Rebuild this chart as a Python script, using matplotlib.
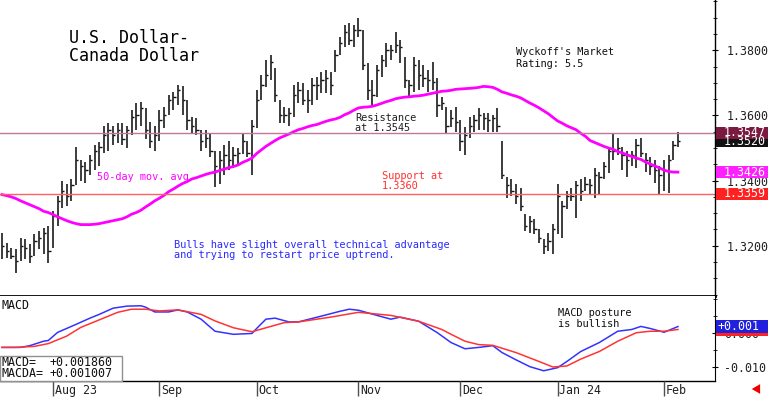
import numpy as np
import pandas as pd
import matplotlib
matplotlib.use("Agg")
import matplotlib.pyplot as plt
from matplotlib.patches import Rectangle
from matplotlib.transforms import blended_transform_factory

# ---- data ----
dates = pd.bdate_range("2023-07-17", "2024-02-06")

high = [1.3240, 1.3209, 1.3194, 1.3191, 1.3225, 1.3222, 1.3206, 1.3237, 1.3246, 1.3255,
        1.3262, 1.3308, 1.3354, 1.3400, 1.3391, 1.3406, 1.3502, 1.3462, 1.3456, 1.3477,
        1.3508, 1.3517, 1.3569, 1.3576, 1.3569, 1.3576, 1.3576, 1.3569, 1.3616, 1.3637,
        1.3640, 1.3622, 1.3579, 1.3569, 1.3616, 1.3625, 1.3662, 1.3671, 1.3692, 1.3689,
        1.3646, 1.3594, 1.3591, 1.3554, 1.3554, 1.3545, 1.3492, 1.3492, 1.3508, 1.3523,
        1.3502, 1.3499, 1.3545, 1.3523, 1.3585, 1.3677, 1.3723, 1.3769, 1.3785, 1.3745,
        1.3646, 1.3625, 1.3622, 1.3692, 1.3702, 1.3699, 1.3677, 1.3714, 1.3717, 1.3732,
        1.3739, 1.3732, 1.3800, 1.3840, 1.3877, 1.3883, 1.3877, 1.3899, 1.3862, 1.3760,
        1.3708, 1.3754, 1.3785, 1.3822, 1.3816, 1.3856, 1.3831, 1.3779, 1.3708, 1.3779,
        1.3769, 1.3754, 1.3739, 1.3763, 1.3714, 1.3656, 1.3625, 1.3616, 1.3625, 1.3585,
        1.3563, 1.3594, 1.3600, 1.3622, 1.3606, 1.3606, 1.3600, 1.3622, 1.3523, 1.3410,
        1.3406, 1.3391, 1.3376, 1.3298, 1.3292, 1.3283, 1.3252, 1.3222, 1.3240, 1.3268,
        1.3391, 1.3338, 1.3369, 1.3376, 1.3400, 1.3406, 1.3410, 1.3406, 1.3440, 1.3425,
        1.3456, 1.3502, 1.3545, 1.3532, 1.3502, 1.3492, 1.3492, 1.3529, 1.3532, 1.3486,
        1.3471, 1.3462, 1.3446, 1.3462, 1.3477, 1.3523, 1.3548]
low = [1.3160, 1.3163, 1.3160, 1.3117, 1.3154, 1.3160, 1.3148, 1.3169, 1.3191, 1.3176,
       1.3148, 1.3194, 1.3262, 1.3317, 1.3323, 1.3338, 1.3385, 1.3400, 1.3394, 1.3416,
       1.3431, 1.3446, 1.3486, 1.3492, 1.3508, 1.3514, 1.3508, 1.3499, 1.3539, 1.3554,
       1.3569, 1.3529, 1.3499, 1.3492, 1.3523, 1.3560, 1.3600, 1.3616, 1.3631, 1.3600,
       1.3554, 1.3545, 1.3539, 1.3492, 1.3499, 1.3471, 1.3379, 1.3391, 1.3416, 1.3431,
       1.3440, 1.3446, 1.3483, 1.3471, 1.3416, 1.3560, 1.3646, 1.3686, 1.3708, 1.3640,
       1.3576, 1.3576, 1.3569, 1.3594, 1.3637, 1.3631, 1.3606, 1.3631, 1.3646, 1.3668,
       1.3668, 1.3662, 1.3732, 1.3785, 1.3809, 1.3816, 1.3809, 1.3840, 1.3739, 1.3646,
       1.3625, 1.3656, 1.3717, 1.3748, 1.3769, 1.3791, 1.3760, 1.3683, 1.3656, 1.3671,
       1.3677, 1.3686, 1.3671, 1.3677, 1.3594, 1.3616, 1.3545, 1.3563, 1.3548, 1.3492,
       1.3477, 1.3532, 1.3548, 1.3554, 1.3554, 1.3548, 1.3548, 1.3548, 1.3406, 1.3348,
       1.3354, 1.3329, 1.3308, 1.3246, 1.3240, 1.3237, 1.3209, 1.3176, 1.3185, 1.3176,
       1.3237, 1.3225, 1.3314, 1.3338, 1.3286, 1.3338, 1.3369, 1.3360, 1.3348, 1.3360,
       1.3406, 1.3422, 1.3462, 1.3477, 1.3431, 1.3410, 1.3446, 1.3440, 1.3471, 1.3425,
       1.3416, 1.3394, 1.3360, 1.3369, 1.3363, 1.3462, 1.3502]
close = [1.3200, 1.3185, 1.3169, 1.3154, 1.3200, 1.3194, 1.3169, 1.3215, 1.3225, 1.3240,
         1.3185, 1.3292, 1.3338, 1.3369, 1.3354, 1.3385, 1.3462, 1.3446, 1.3431, 1.3462,
         1.3492, 1.3502, 1.3539, 1.3554, 1.3539, 1.3554, 1.3529, 1.3554, 1.3594, 1.3600,
         1.3622, 1.3554, 1.3523, 1.3539, 1.3585, 1.3600, 1.3646, 1.3656, 1.3677, 1.3646,
         1.3585, 1.3569, 1.3554, 1.3523, 1.3532, 1.3492, 1.3446, 1.3462, 1.3477, 1.3462,
         1.3477, 1.3486, 1.3523, 1.3486, 1.3569, 1.3646, 1.3692, 1.3723, 1.3763, 1.3662,
         1.3600, 1.3600, 1.3606, 1.3662, 1.3677, 1.3646, 1.3646, 1.3692, 1.3692, 1.3708,
         1.3714, 1.3692, 1.3785, 1.3822, 1.3856, 1.3831, 1.3862, 1.3862, 1.3754, 1.3677,
         1.3662, 1.3739, 1.3769, 1.3800, 1.3800, 1.3816, 1.3809, 1.3708, 1.3692, 1.3754,
         1.3723, 1.3714, 1.3708, 1.3702, 1.3631, 1.3637, 1.3569, 1.3591, 1.3579, 1.3523,
         1.3539, 1.3569, 1.3585, 1.3600, 1.3591, 1.3585, 1.3591, 1.3569, 1.3416, 1.3385,
         1.3369, 1.3354, 1.3323, 1.3262, 1.3277, 1.3252, 1.3225, 1.3200, 1.3215, 1.3252,
         1.3354, 1.3323, 1.3354, 1.3354, 1.3385, 1.3369, 1.3391, 1.3385, 1.3416, 1.3410,
         1.3446, 1.3492, 1.3492, 1.3499, 1.3477, 1.3462, 1.3477, 1.3508, 1.3486, 1.3462,
         1.3446, 1.3431, 1.3416, 1.3431, 1.3462, 1.3508, 1.3520]
ma50 = [1.3357, 1.3354, 1.3350, 1.3345, 1.3338, 1.3332, 1.3326, 1.3320, 1.3314, 1.3306,
        1.3302, 1.3296, 1.3289, 1.3283, 1.3277, 1.3272, 1.3268, 1.3265, 1.3265, 1.3265,
        1.3266, 1.3268, 1.3271, 1.3274, 1.3277, 1.3280, 1.3283, 1.3289, 1.3297, 1.3302,
        1.3309, 1.3319, 1.3328, 1.3338, 1.3346, 1.3355, 1.3366, 1.3374, 1.3383, 1.3391,
        1.3397, 1.3405, 1.3409, 1.3414, 1.3419, 1.3423, 1.3426, 1.3431, 1.3435, 1.3440,
        1.3443, 1.3448, 1.3456, 1.3462, 1.3469, 1.3483, 1.3494, 1.3505, 1.3514, 1.3523,
        1.3531, 1.3537, 1.3543, 1.3550, 1.3556, 1.3560, 1.3565, 1.3569, 1.3572, 1.3577,
        1.3582, 1.3586, 1.3589, 1.3594, 1.3602, 1.3608, 1.3616, 1.3623, 1.3625, 1.3626,
        1.3628, 1.3632, 1.3637, 1.3642, 1.3646, 1.3651, 1.3654, 1.3656, 1.3657, 1.3659,
        1.3660, 1.3662, 1.3665, 1.3668, 1.3671, 1.3674, 1.3675, 1.3677, 1.3680, 1.3681,
        1.3682, 1.3683, 1.3684, 1.3686, 1.3689, 1.3688, 1.3686, 1.3680, 1.3672, 1.3668,
        1.3663, 1.3659, 1.3654, 1.3646, 1.3638, 1.3631, 1.3623, 1.3614, 1.3605, 1.3594,
        1.3583, 1.3576, 1.3568, 1.3562, 1.3556, 1.3545, 1.3536, 1.3523, 1.3517, 1.3511,
        1.3505, 1.3500, 1.3496, 1.3489, 1.3485, 1.3479, 1.3474, 1.3469, 1.3465, 1.3457,
        1.3451, 1.3445, 1.3439, 1.3432, 1.3428, 1.3426, 1.3426]

# MACD and its average (thousandths), sampled at bar numbers
macd_at = [0, 4, 6, 9, 10, 12, 16, 19, 21, 24, 27, 30, 31, 33, 36, 38, 40, 43, 46, 50,
           54, 55, 57, 59, 62, 64, 69, 73, 75, 77, 81, 84, 86, 90, 94, 97, 100, 103, 106,
           108, 111, 114, 117, 120, 122, 125, 129, 133, 136, 138, 140, 143, 146]
macd = [-4.2, -4.2, -3.7, -2.4, -2.2, 0.15, 2.5, 4.3, 5.4, 7.2, 7.8, 7.9, 7.5, 6.1, 6.1,
        6.7, 6.1, 4.0, 0.5, -0.4, -0.15, 1.3, 4.0, 4.3, 3.2, 3.2, 4.9, 6.3, 6.9, 6.6, 5.1,
        4.0, 4.6, 3.4, 0.1, -2.8, -4.6, -4.2, -3.7, -5.7, -7.8, -9.8, -11.0, -10.1, -8.3,
        -5.4, -2.8, 0.5, 1.0, 1.9, 1.3, 0.2, 1.86]
macda_at = [0, 3, 7, 10, 14, 17, 21, 25, 28, 31, 34, 38, 43, 46, 50, 54, 57, 61, 64, 71,
            77, 84, 90, 95, 97, 100, 103, 106, 111, 116, 119, 122, 125, 129, 133, 137,
            140, 143, 146]
macda = [-4.2, -4.2, -3.9, -3.1, -0.9, 1.6, 3.8, 6.0, 6.9, 6.9, 6.4, 6.7, 5.4, 3.5, 1.5,
         0.35, 1.5, 3.0, 3.2, 4.6, 6.0, 5.1, 3.4, 1.0, -0.4, -2.4, -3.4, -3.6, -5.7, -8.3,
         -9.9, -9.6, -7.6, -5.4, -2.4, 0.06, 0.5, 0.5, 1.007]

resistance = 1.3545
support = 1.3360
resist_box = 1.3547
last_close = 1.3520
ma_last = 1.3426
support_box = 1.3359
macd_last = 0.001860
macda_last = 0.001007

price_ticks = [1.32, 1.34, 1.36, 1.38]
month_labels = ["Aug 23", "Sep", "Oct", "Nov", "Dec", "Jan 24", "Feb"]

# ---- layout ----
W, H = 768, 397
MONO = "DejaVu Sans Mono"
plt.rcParams["font.family"] = MONO


def box(l, t, r, b):
    return [l / W, 1 - b / H, (r - l) / W, (b - t) / H]


def txt(px, py, s, **kw):
    fig.text(px / W, 1 - py / H, s, va="baseline", **kw)


fig = plt.figure(figsize=(W / 100, H / 100), dpi=100)
ax = fig.add_axes(box(0, 0, 715, 296))
mx = fig.add_axes(box(0, 296, 715, 381))
dx = fig.add_axes(box(0, 381, 715, 397))

idx = np.arange(len(dates))
xlim = (-0.43, 154.0)

# price bars
ax.vlines(idx, low, high, color="#111111", lw=1.15)
ax.hlines(close, idx, idx + 0.5, color="#111111", lw=1.0)
ax.plot(idx, ma50, color="#ff00ff", lw=2)
ax.axhline(resistance, color="#c07898", lw=1)
ax.axhline(support, color="#ff6060", lw=1)

ax.set_xlim(*xlim)
ax.set_ylim(1.3046, 1.3954)
for s in ["left", "top"]:
    ax.spines[s].set_visible(False)
ax.spines["bottom"].set_linewidth(2)
ax.spines["right"].set_linewidth(1)
ax.set_xticks([])
ax.yaxis.tick_right()
ax.set_yticks(price_ticks)
ax.set_yticklabels([f"{v:.4f}" for v in price_ticks])
ax.set_yticks(np.arange(1.305, 1.396, 0.005), minor=True)
ax.tick_params(axis="y", which="major", length=5, direction="inout", pad=6,
               labelsize=8.4, labelcolor="#202020")
ax.tick_params(axis="y", which="minor", length=3, direction="inout")

# value boxes on the right axis
tr = blended_transform_factory(fig.transFigure, ax.transData)
bh = 0.0036
for val, col in [(last_close, "#111111"), (resist_box, "#7a1a40"),
                 (ma_last, "#ff20ff"), (support_box, "#ff2020")]:
    ax.add_patch(Rectangle((716 / W, val - bh / 2), 52 / W, bh, transform=tr,
                           facecolor=col, edgecolor="none", clip_on=False, zorder=5))
    ax.text(724 / W, val, f"{val:.4f}", transform=tr, color="white", fontsize=8.4,
            va="center", ha="left", zorder=6, clip_on=False)

# MACD panel
mx.plot(macd_at, np.array(macd) / 1000, color="#3333ff", lw=1.1)
mx.plot(macda_at, np.array(macda) / 1000, color="#ff3333", lw=1.1)
mx.set_xlim(*xlim)
mx.set_ylim(-0.01397, 0.01074)
for s in ["left", "top"]:
    mx.spines[s].set_visible(False)
mx.spines["bottom"].set_linewidth(1)
mx.set_xticks([])
mx.yaxis.tick_right()
mx.set_yticks([0.0, -0.010])
mx.set_yticklabels(["0.000", "-0.010"])
mx.set_yticks([0.010, 0.005, -0.005], minor=True)
mx.tick_params(axis="y", which="major", length=5, direction="inout", pad=4,
               labelsize=8.4, labelcolor="#202020")
mx.tick_params(axis="y", which="minor", length=3, direction="inout")

trm = blended_transform_factory(fig.transFigure, mx.transData)
mh = 0.00353
for val, col in [(macda_last, "#ff2020"), (macd_last, "#2020dd")]:
    mx.add_patch(Rectangle((716 / W, val - mh / 2), 52 / W, mh, transform=trm,
                           facecolor=col, edgecolor="none", clip_on=False, zorder=5))
mx.text(717 / W, macd_last, "+0.001", transform=trm, color="white", fontsize=8.4,
        va="center", ha="left", zorder=6, clip_on=False)

# date row
month_pos = [i for i in range(1, len(dates)) if dates[i].month != dates[i - 1].month]
dx.set_xlim(*xlim)
dx.set_ylim(0, 1)
dx.axis("off")
dx.vlines(month_pos, 0.05, 1, color="#505050", lw=1)
for p, lab in zip(month_pos, month_labels):
    dx.text(p + 0.35, 0.42, lab, fontsize=8.4, color="#202020", va="center", ha="left")

# MACD readout box
fig.patches.append(Rectangle((0, 1 - 381 / H), 122 / W, 25 / H, transform=fig.transFigure,
                             facecolor="white", edgecolor="#909090", lw=1, zorder=3))
txt(1, 366, "MACD=", fontsize=8.4, color="#101010", zorder=4)
txt(49, 366, f"{macd_last:+.6f}", fontsize=8.4, color="#101010", zorder=4)
txt(1, 377, "MACDA=", fontsize=8.4, color="#101010", zorder=4)
txt(49, 377, f"{macda_last:+.6f}", fontsize=8.4, color="#101010", zorder=4)
txt(1, 309, "MACD", fontsize=8.4, color="#101010")

# annotations
txt(69, 43, "U.S. Dollar-", fontsize=12, color="black")
txt(69, 61, "Canada Dollar", fontsize=12, color="black")
txt(516, 55, "Wyckoff's Market", fontsize=7.4, color="#101010")
txt(516, 67, "Rating: 5.5", fontsize=7.4, color="#101010")
txt(355, 121, "Resistance", fontsize=7.4, color="#202020")
txt(355, 131, "at 1.3545", fontsize=7.4, color="#202020")
txt(382, 179, "Support at", fontsize=7.4, color="#ff3030")
txt(382, 189, "1.3360", fontsize=7.4, color="#ff3030")
txt(97, 180, "50-day mov. avg.", fontsize=7.4, color="#ff00ff")
txt(174, 248, "Bulls have slight overall technical advantage", fontsize=7.4, color="#2a2aff")
txt(174, 258, "and trying to restart price uptrend.", fontsize=7.4, color="#2a2aff")
txt(558, 316, "MACD posture", fontsize=7.4, color="#101010")
txt(558, 327, "is bullish", fontsize=7.4, color="#101010")

plt.annotate("", xy=(749, H - 389), xytext=(762, H - 389), xycoords="figure pixels",
             textcoords="figure pixels",
             arrowprops=dict(arrowstyle="simple,head_width=0.7,head_length=0.6,tail_width=0.3",
                             color="#ee0000", lw=0))

fig.savefig("out.png", dpi=100)
